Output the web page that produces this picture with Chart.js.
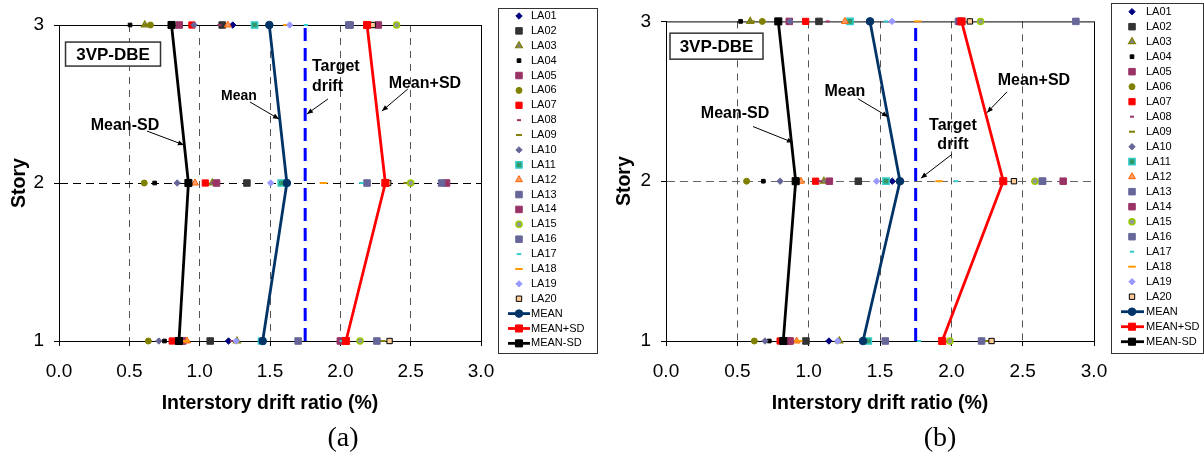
<!DOCTYPE html>
<html>
<head>
<meta charset="utf-8">
<script src="https://cdn.jsdelivr.net/npm/chart.js@4.4.0/dist/chart.umd.min.js"></script>
<style>
body { margin: 0; background: #fff; width: 1204px; height: 456px; overflow: hidden; position: relative; }
canvas { position: absolute; top: 0; }
#ca { left: 0; }
#cb { left: 602px; }
.cap { position: absolute; top: 437px; font-family: 'Liberation Serif', serif; font-size: 28px; transform: translate(-50%, -50%); color: #000; }
</style>
</head>
<body>
<canvas id="ca" width="602" height="456"></canvas>
<canvas id="cb" width="602" height="456"></canvas>
<div class="cap" style="left:343px">(a)</div>
<div class="cap" style="left:940px">(b)</div>
<script>
const stories = [1, 2, 3];
const xTicks = [0, 0.5, 1, 1.5, 2, 2.5, 3];
const recordNames = ['LA01', 'LA02', 'LA03', 'LA04', 'LA05', 'LA06', 'LA07', 'LA08', 'LA09', 'LA10',
                     'LA11', 'LA12', 'LA13', 'LA14', 'LA15', 'LA16', 'LA17', 'LA18', 'LA19', 'LA20'];
const targetDrift = 1.75;

// drift per record, [story 1, story 2, story 3]
const driftA = [
    [1.205, 1.60, 1.235], [1.075, 1.336, 1.16], [1.265, 1.09, 0.61], [0.75, 0.68, 0.505],
    [0.88, 1.12, 0.855], [0.635, 0.606, 0.65], [0.805, 1.04, 0.945], [1.23, 1.10, 1.14],
    [2.30, 2.47, 0.62], [0.71, 0.84, 0.96], [1.44, 1.58, 1.39], [0.91, 0.967, 1.20],
    [1.70, 2.19, 2.07], [2.00, 2.755, 2.27], [2.14, 2.50, 2.40], [2.26, 2.72, 2.06],
    [2.01, 2.15, 1.755], [0.90, 1.88, 1.62], [1.26, 1.505, 1.64], [2.35, 2.34, 2.23]
];
const meanA = [1.448, 1.62, 1.495];
const meanPlusA = [2.04, 2.32, 2.19];
const meanMinusA = [0.853, 0.92, 0.80];

const driftB = [
    [1.142, 1.586, 1.43], [0.981, 1.348, 1.072], [1.215, 1.107, 0.59], [0.724, 0.682, 0.523],
    [0.862, 1.145, 0.864], [0.619, 0.565, 0.675], [0.80, 1.049, 0.979], [0.85, 1.08, 1.133],
    [2.25, 2.59, 0.60], [0.694, 0.80, 0.87], [1.418, 1.542, 1.29], [0.916, 0.946, 1.254],
    [1.537, 2.637, 2.05], [0.87, 2.784, 2.06], [1.99, 2.586, 2.205], [2.212, 2.64, 2.873],
    [1.773, 2.032, 1.54], [0.93, 1.915, 1.764], [1.203, 1.476, 1.584], [2.282, 2.439, 2.13]
];
const meanB = [1.381, 1.64, 1.43];
const meanPlusB = [1.936, 2.364, 2.072];
const meanMinusB = [0.822, 0.909, 0.787];

const markers = [
    { style: 'rectRot', r: 3.2, bg: '#000080', bd: '#000080', bw: 1 },
    { style: 'rect', r: 4.6, bg: '#333333', bd: '#333333', bw: 1 },
    { style: 'triangle', r: 4, bg: '#808080', bd: '#808000', bw: 1.2 },
    { style: 'rect', r: 2.6, bg: '#000000', bd: '#000000', bw: 1 },
    { style: 'rect', r: 4.6, bg: '#993366', bd: '#993366', bw: 1 },
    { style: 'circle', r: 3, bg: '#808000', bd: '#808000', bw: 1 },
    { style: 'rect', r: 4.4, bg: '#FF0000', bd: '#FF0000', bw: 1 },
    { style: 'line', r: 2, bg: '#993366', bd: '#993366', bw: 2 },
    { style: 'line', r: 3, bg: '#808000', bd: '#808000', bw: 2 },
    { style: 'rectRot', r: 3.2, bg: '#666699', bd: '#666699', bw: 1 },
    { style: 'rect', r: 4.4, bg: '#339966', bd: '#33CCCC', bw: 1.5 },
    { style: 'triangle', r: 4, bg: '#FF9966', bd: '#FF6600', bw: 1 },
    { style: 'rect', r: 4.6, bg: '#666699', bd: '#666699', bw: 1 },
    { style: 'rect', r: 4.6, bg: '#993366', bd: '#993366', bw: 1 },
    { style: 'circle', r: 3, bg: '#969696', bd: '#99CC00', bw: 1.5 },
    { style: 'rect', r: 4.6, bg: '#666699', bd: '#666699', bw: 1 },
    { style: 'line', r: 2.2, bg: '#33CCCC', bd: '#33CCCC', bw: 2 },
    { style: 'line', r: 3.8, bg: '#FF9900', bd: '#FF9900', bw: 2 },
    { style: 'rectRot', r: 3.2, bg: '#9999FF', bd: '#9999FF', bw: 1 },
    { style: 'rect', r: 3.8, bg: '#FFCC99', bd: '#000000', bw: 1 }
];
const lineStyles = [
    { name: 'MEAN', color: '#003366', style: 'circle', r: 3.8 },
    { name: 'MEAN+SD', color: '#FF0000', style: 'rect', r: 5 },
    { name: 'MEAN-SD', color: '#000000', style: 'rect', r: 5 }
];

function buildDatasets(drift, mean, plus, minus) {
    const sets = recordNames.map((name, k) => ({
        label: name,
        data: stories.map((s, i) => ({ x: drift[k][i], y: s })),
        showLine: false,
        pointStyle: markers[k].style,
        pointRadius: markers[k].r,
        pointBackgroundColor: markers[k].bg,
        pointBorderColor: markers[k].bd,
        pointBorderWidth: markers[k].bw,
        clip: false,
        order: 100 - k
    }));
    sets.push({
        label: 'Target drift',
        data: [{ x: targetDrift, y: 1 }, { x: targetDrift, y: 3 }],
        showLine: true,
        borderColor: '#0000FF',
        borderWidth: 3,
        borderDash: [13, 7],
        pointRadius: 0,
        clip: false,
        order: 50
    });
    [mean, plus, minus].forEach((vals, j) => {
        const ls = lineStyles[j];
        sets.push({
            label: ls.name,
            data: stories.map((s, i) => ({ x: vals[i], y: s })),
            showLine: true,
            borderColor: ls.color,
            borderWidth: 2.8,
            pointStyle: ls.style,
            pointRadius: ls.r,
            pointBackgroundColor: ls.color,
            pointBorderColor: ls.color,
            pointBorderWidth: 1,
            clip: false,
            order: 3 - j
        });
    });
    return sets;
}

function toPx(chart, x, y) {
    return [chart.scales.x.getPixelForValue(x), chart.scales.y.getPixelForValue(y)];
}

function arrow(ctx, x0, y0, x1, y1) {
    ctx.strokeStyle = '#000';
    ctx.fillStyle = '#000';
    ctx.lineWidth = 1;
    ctx.beginPath();
    ctx.moveTo(x0, y0);
    ctx.lineTo(x1, y1);
    ctx.stroke();
    const a = Math.atan2(y1 - y0, x1 - x0);
    ctx.beginPath();
    ctx.moveTo(x1, y1);
    ctx.lineTo(x1 - 6 * Math.cos(a) + 2.5 * Math.sin(a), y1 - 6 * Math.sin(a) - 2.5 * Math.cos(a));
    ctx.lineTo(x1 - 6 * Math.cos(a) - 2.5 * Math.sin(a), y1 - 6 * Math.sin(a) + 2.5 * Math.cos(a));
    ctx.closePath();
    ctx.fill();
}

const decorPlugin = {
    id: 'decor',
    beforeDatasetsDraw(chart) {
        const ctx = chart.ctx;
        const a = chart.chartArea;
        const cfg = chart.options.plugins.decor;
        ctx.save();
        ctx.strokeStyle = '#000';
        ctx.lineWidth = 1;
        ctx.setLineDash([]);
        ctx.strokeRect(a.left + 0.5, a.top + 0.5, a.right - a.left, a.bottom - a.top);
        // case label box
        const [bx, by] = toPx(chart, cfg.box.x, cfg.box.y);
        ctx.fillStyle = '#fff';
        ctx.fillRect(bx - cfg.box.w / 2, by - cfg.box.h / 2, cfg.box.w, cfg.box.h);
        ctx.strokeStyle = '#333';
        ctx.lineWidth = 1.5;
        ctx.strokeRect(bx - cfg.box.w / 2, by - cfg.box.h / 2, cfg.box.w, cfg.box.h);
        ctx.fillStyle = '#000';
        ctx.font = 'bold 17px "Liberation Sans"';
        ctx.textAlign = 'center';
        ctx.textBaseline = 'middle';
        ctx.fillText('3VP-DBE', bx, by + 1);
        ctx.restore();
    },
    afterDatasetsDraw(chart) {
        const ctx = chart.ctx;
        const cfg = chart.options.plugins.decor;
        ctx.save();
        ctx.fillStyle = '#000';
        ctx.textBaseline = 'middle';
        cfg.notes.forEach(n => {
            ctx.font = 'bold ' + n.size + 'px "Liberation Sans"';
            ctx.textAlign = n.align;
            n.lines.forEach((t, i) => {
                const [px, py] = toPx(chart, n.x, n.y[i]);
                ctx.fillText(t, px, py);
            });
            const [x0, y0] = toPx(chart, n.from[0], n.from[1]);
            const [x1, y1] = toPx(chart, n.to[0], n.to[1]);
            arrow(ctx, x0, y0, x1, y1);
            ctx.fillStyle = '#000';
        });
        ctx.restore();
    },
    afterDraw(chart) {
        const ctx = chart.ctx;
        const L = chart.options.plugins.decor.legend;
        const drawPoint = Chart.helpers.drawPoint;
        ctx.save();
        ctx.strokeStyle = '#333';
        ctx.lineWidth = 1;
        ctx.strokeRect(L.left + 0.5, L.top + 0.5, L.right - L.left, L.bottom - L.top);
        ctx.font = '11px "Liberation Sans"';
        ctx.textAlign = 'left';
        ctx.textBaseline = 'middle';
        recordNames.forEach((name, k) => {
            const y = L.row0 + k * L.step;
            const m = markers[k];
            ctx.fillStyle = m.bg;
            ctx.strokeStyle = m.bd;
            ctx.lineWidth = m.bw;
            drawPoint(ctx, { pointStyle: m.style, radius: m.r, rotation: 0, borderWidth: m.bw }, L.mx, y);
            ctx.fillStyle = '#000';
            ctx.fillText(name, L.tx, y);
        });
        lineStyles.forEach((ls, j) => {
            const y = L.row0 + (20 + j) * L.step;
            ctx.strokeStyle = ls.color;
            ctx.lineWidth = 2.8;
            ctx.beginPath();
            ctx.moveTo(L.lx0, y);
            ctx.lineTo(L.lx1, y);
            ctx.stroke();
            ctx.fillStyle = ls.color;
            ctx.lineWidth = 1;
            drawPoint(ctx, { pointStyle: ls.style, radius: ls.r, rotation: 0, borderWidth: 1 }, L.mx, y);
            ctx.fillStyle = '#000';
            ctx.fillText(ls.name, L.tx, y);
        });
        ctx.restore();
    }
};

function makeChart(id, datasets, opts) {
    return new Chart(document.getElementById(id), {
        type: 'scatter',
        data: { datasets: datasets },
        plugins: [decorPlugin],
        options: {
            responsive: false,
            animation: false,
            devicePixelRatio: 1,
            events: [],
            layout: { padding: opts.padding },
            plugins: {
                legend: { display: false },
                tooltip: { enabled: false },
                decor: opts.decor
            },
            scales: {
                x: {
                    min: 0,
                    max: 3,
                    afterBuildTicks: s => { s.ticks = xTicks.map(v => ({ value: v })); },
                    ticks: {
                        callback: v => Number(v).toFixed(1),
                        font: { size: 19 },
                        color: '#000',
                        padding: 14,
                        autoSkip: false,
                        maxRotation: 0
                    },
                    grid: {
                        color: c => (c.tick && c.tick.value > 0 && c.tick.value < 3) ? '#555' : 'rgba(0,0,0,0)',
                        lineWidth: 1,
                        tickLength: 5,
                        tickColor: '#000'
                    },
                    border: { display: true, color: '#000', width: 1, dash: [7, 6] },
                    title: {
                        display: true,
                        text: 'Interstory drift ratio (%)',
                        font: { size: 19.5, weight: 'bold' },
                        color: '#000',
                        padding: { top: 0, bottom: 1 }
                    },
                    afterFit: s => { s.height = 75; }
                },
                y: {
                    min: 1,
                    max: 3,
                    ticks: {
                        stepSize: 1,
                        font: { size: 19 },
                        color: '#000',
                        padding: 10
                    },
                    grid: {
                        color: c => (c.tick && c.tick.value === 2) ? opts.ygrid : 'rgba(0,0,0,0)',
                        lineWidth: 1,
                        tickLength: 5,
                        tickColor: '#000'
                    },
                    border: { display: true, color: '#000', width: 1, dash: [8, 5] },
                    title: {
                        display: true,
                        text: 'Story',
                        font: { size: 19.5, weight: 'bold' },
                        color: '#000',
                        padding: { top: opts.ytitlePad, bottom: 0 }
                    },
                    afterFit: s => { s.width = opts.yWidth; }
                }
            }
        }
    });
}

Chart.defaults.font.family = '"Liberation Sans", Arial, sans-serif';

makeChart('ca', buildDatasets(driftA, meanA, meanPlusA, meanMinusA), {
    padding: { left: 0, right: 121, top: 25, bottom: 40 },
    yWidth: 59,
    ytitlePad: 8,
    ygrid: '#000',
    decor: {
        box: { x: 0.384, y: 2.816, w: 95, h: 24 },
        notes: [
            { lines: ['Target', 'drift'], x: 1.798, y: [2.734, 2.608], align: 'left', size: 16, from: [1.912, 2.532], to: [1.763, 2.437] },
            { lines: ['Mean'], x: 1.279, y: [2.551], align: 'center', size: 14, from: [1.357, 2.513], to: [1.564, 2.405] },
            { lines: ['Mean+SD'], x: 2.601, y: [2.627], align: 'center', size: 16, from: [2.480, 2.595], to: [2.296, 2.456] },
            { lines: ['Mean-SD'], x: 0.469, y: [2.361], align: 'center', size: 16, from: [0.625, 2.329], to: [0.888, 2.241] }
        ],
        legend: { left: 498, top: 8, right: 597, bottom: 353, mx: 519, tx: 531, lx0: 508, lx1: 530, row0: 16, step: 14.88 }
    }
});

makeChart('cb', buildDatasets(driftB, meanB, meanPlusB, meanMinusB), {
    padding: { left: 0, right: 110, top: 19, bottom: 40 },
    yWidth: 64,
    ytitlePad: 11,
    ygrid: '#666',
    decor: {
        box: { x: 0.354, y: 2.845, w: 93, h: 26 },
        notes: [
            { lines: ['Target', 'drift'], x: 2.011, y: [2.348, 2.230], align: 'center', size: 16, from: [2.004, 2.168], to: [1.787, 2.019] },
            { lines: ['Mean'], x: 1.254, y: [2.559], align: 'center', size: 16, from: [1.345, 2.516], to: [1.556, 2.404] },
            { lines: ['Mean+SD'], x: 2.579, y: [2.627], align: 'center', size: 16, from: [2.390, 2.559], to: [2.250, 2.429] },
            { lines: ['Mean-SD'], x: 0.484, y: [2.422], align: 'center', size: 16, from: [0.610, 2.342], to: [0.890, 2.242] }
        ],
        legend: { left: 509, top: 3, right: 601, bottom: 353, mx: 530, tx: 544, lx0: 519, lx1: 542, row0: 11.7, step: 15.0 }
    }
});
</script>
</body>
</html>
